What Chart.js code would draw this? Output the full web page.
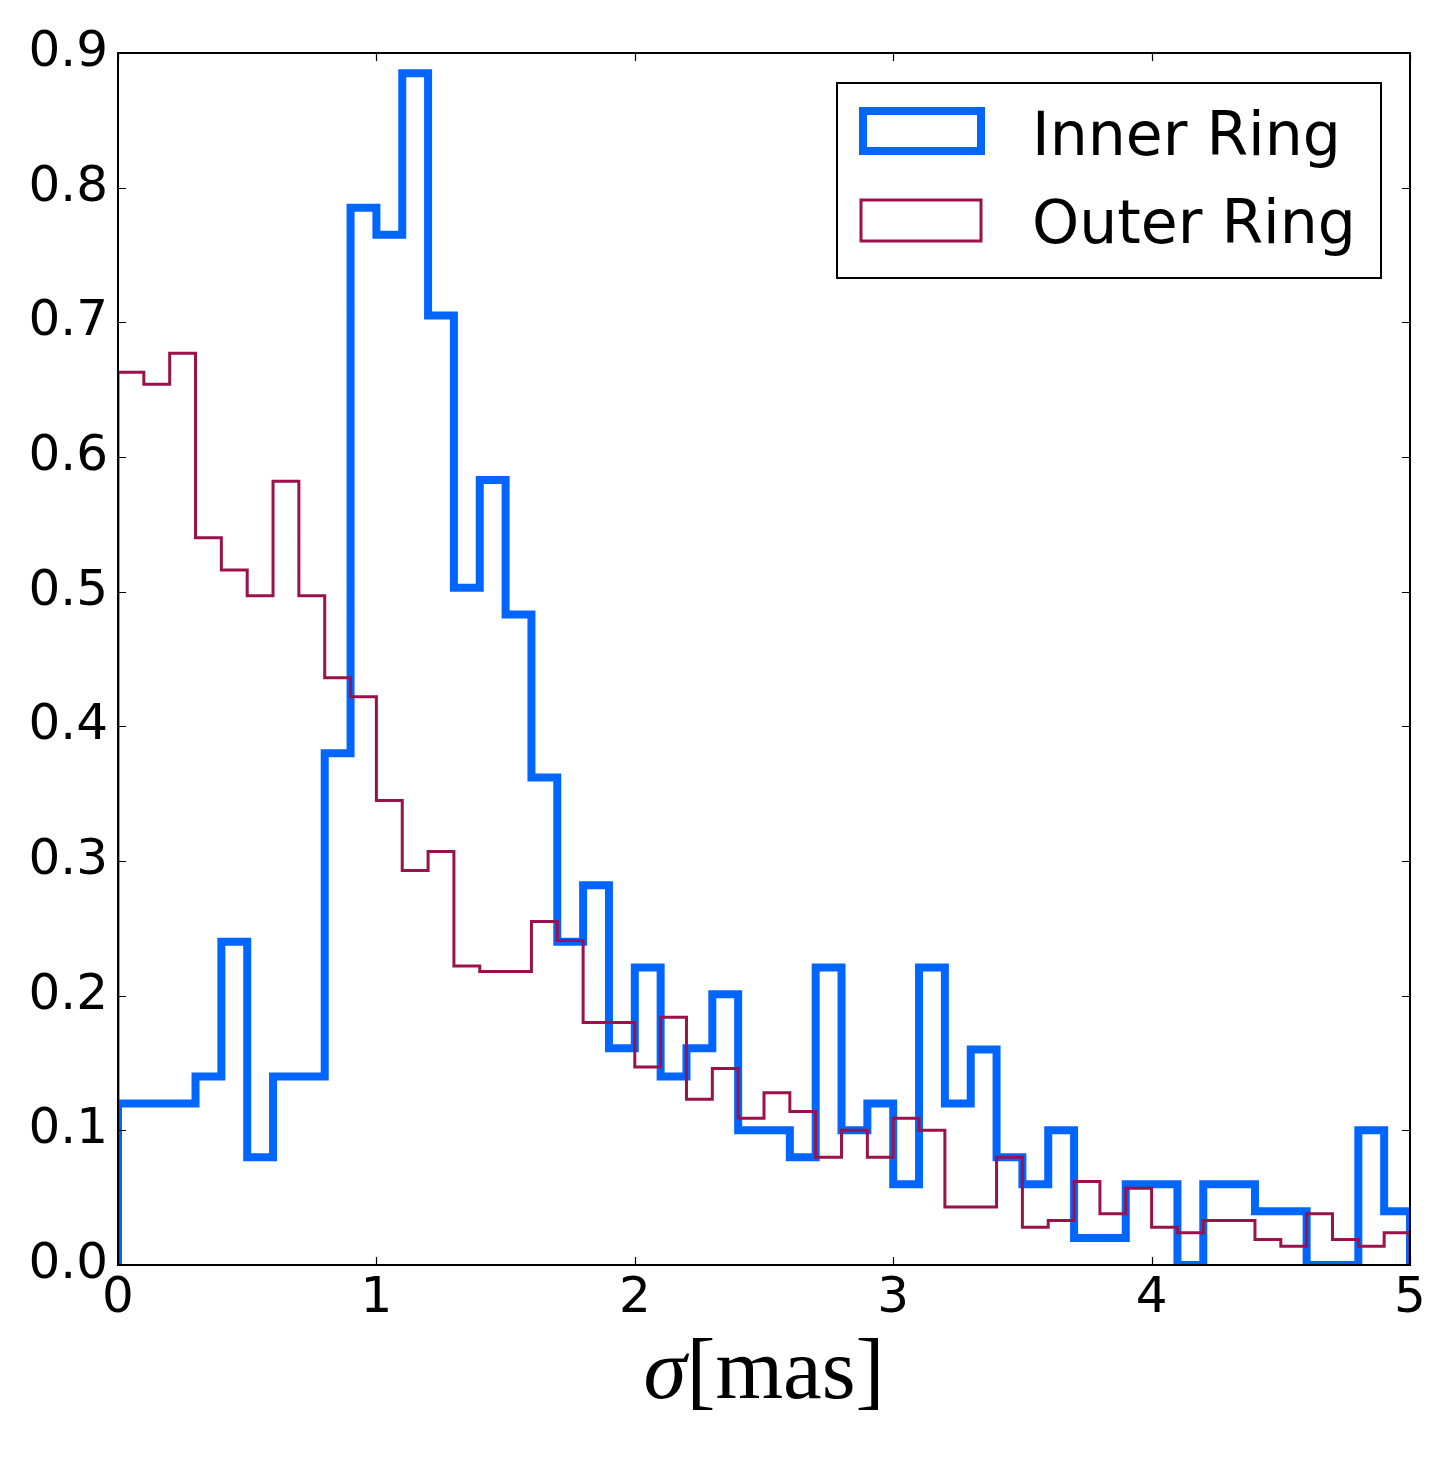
<!DOCTYPE html>
<html>
<head>
<meta charset="utf-8">
<script src="https://cdn.jsdelivr.net/npm/chart.js@4/dist/chart.umd.min.js"></script>
<style>
  html, body { margin: 0; padding: 0; background: #fff; }
  #wrap { width: 1455px; height: 1457px; position: relative; }
</style>
</head>
<body>
<div id="wrap"><canvas id="c"></canvas></div>
<script>
// ---- Data ----
const binEdges = [0.0,0.1,0.2,0.3,0.4,0.5,0.6,0.7,0.8,0.9,1.0,1.1,1.2,1.3,1.4,1.5,1.6,1.7,1.8,1.9,
                  2.0,2.1,2.2,2.3,2.4,2.5,2.6,2.7,2.8,2.9,3.0,3.1,3.2,3.3,3.4,3.5,3.6,3.7,3.8,3.9,
                  4.0,4.1,4.2,4.3,4.4,4.5,4.6,4.7,4.8,4.9,5.0];
const innerRing = [0.12,0.12,0.12,0.14,0.24,0.08,0.14,0.14,0.38,0.785,
                   0.765,0.885,0.705,0.503,0.583,0.483,0.362,0.24,0.282,0.161,
                   0.221,0.14,0.161,0.201,0.10,0.10,0.08,0.221,0.10,0.12,
                   0.06,0.221,0.12,0.16,0.08,0.06,0.10,0.02,0.02,0.06,
                   0.06,0.0,0.06,0.06,0.04,0.04,0.0,0.0,0.10,0.04];
const outerRing = [0.663,0.654,0.677,0.540,0.516,0.497,0.582,0.497,0.436,0.422,
                   0.345,0.293,0.307,0.222,0.218,0.218,0.255,0.241,0.180,0.180,
                   0.147,0.184,0.123,0.146,0.109,0.128,0.114,0.080,0.100,0.080,
                   0.109,0.100,0.043,0.043,0.080,0.028,0.033,0.062,0.038,0.057,
                   0.028,0.024,0.033,0.033,0.019,0.014,0.038,0.019,0.014,0.024];
const seriesLabels = ['Inner Ring', 'Outer Ring'];
const xTicks = [0,1,2,3,4,5];
const yTicks = [0.0,0.1,0.2,0.3,0.4,0.5,0.6,0.7,0.8,0.9];

// Build step outline (histtype='step') from edges + values
function stepPoints(edges, vals) {
  const pts = [{x: edges[0], y: 0}];
  for (let i = 0; i < vals.length; i++) {
    pts.push({x: edges[i], y: vals[i]});
    pts.push({x: edges[i+1], y: vals[i]});
  }
  pts.push({x: edges[edges.length-1], y: 0});
  return pts;
}

const BLUE = '#0066ff';
const RED = '#9b114b';

const framePlugin = {
  id: 'frameTicks',
  afterDatasetsDraw(chart) {
    const {ctx, chartArea: a, scales} = chart;
    ctx.save();
    ctx.strokeStyle = '#000';
    ctx.lineWidth = 1.2;
    const tl = 8;
    ctx.beginPath();
    xTicks.forEach(v => {
      const px = Math.round(scales.x.getPixelForValue(v)) + 0.5;
      ctx.moveTo(px, a.bottom); ctx.lineTo(px, a.bottom - tl);
      ctx.moveTo(px, a.top); ctx.lineTo(px, a.top + tl);
    });
    yTicks.forEach(v => {
      const py = Math.round(scales.y.getPixelForValue(v)) + 0.5;
      ctx.moveTo(a.left, py); ctx.lineTo(a.left + tl, py);
      ctx.moveTo(a.right, py); ctx.lineTo(a.right - tl, py);
    });
    ctx.stroke();
    ctx.lineWidth = 2;
    ctx.strokeRect(a.left, a.top, a.right - a.left, a.bottom - a.top);
    ctx.restore();
  },
  afterDraw(chart) {
    const {ctx, chartArea: a} = chart;
    ctx.save();
    // x-axis title: σ[mas]
    const cx = (a.left + a.right) / 2;
    const base = a.bottom + 133;
    const fs = 87;
    ctx.fillStyle = '#000';
    ctx.textBaseline = 'alphabetic';
    ctx.textAlign = 'left';
    ctx.font = 'italic ' + fs + 'px "Liberation Serif"';
    const sig = 'σ';
    const wSig = ctx.measureText(sig).width;
    ctx.font = fs + 'px "Liberation Serif"';
    const rest = '[mas]';
    const wRest = ctx.measureText(rest).width;
    let x0 = cx - (wSig + wRest) / 2;
    ctx.font = 'italic ' + fs + 'px "Liberation Serif"';
    ctx.fillText(sig, x0, base);
    ctx.font = fs + 'px "Liberation Serif"';
    ctx.fillText(rest, x0 + wSig, base);

    // Legend (drawn inside the axes, upper right)
    const lx = 837, ly = 83, lw = 544, lh = 195;
    ctx.fillStyle = '#fff';
    ctx.fillRect(lx, ly, lw, lh);
    ctx.strokeStyle = '#000';
    ctx.lineWidth = 2;
    ctx.strokeRect(lx, ly, lw, lh);
    const ds = chart.data.datasets;
    const rows = [
      {box: [863, 111, 118, 40], textY: 155},
      {box: [861, 200, 120, 41], textY: 243}
    ];
    ds.forEach((d, i) => {
      const r = rows[i];
      ctx.strokeStyle = d.borderColor;
      ctx.lineWidth = d.borderWidth;
      ctx.lineJoin = 'miter';
      ctx.strokeRect(r.box[0], r.box[1], r.box[2], r.box[3]);
      ctx.fillStyle = '#000';
      ctx.font = '60px "DejaVu Sans"';
      ctx.textBaseline = 'alphabetic';
      ctx.fillText(d.label, 1032, r.textY);
    });
    ctx.restore();
  }
};

new Chart(document.getElementById('c'), {
  type: 'line',
  data: {
    datasets: [
      {
        label: seriesLabels[0],
        data: stepPoints(binEdges, innerRing),
        borderColor: BLUE,
        borderWidth: 8,
        borderJoinStyle: 'miter',
        borderCapStyle: 'butt',
        pointRadius: 0,
        tension: 0,
        fill: false,
        clip: 0,
        order: 1
      },
      {
        label: seriesLabels[1],
        data: stepPoints(binEdges, outerRing),
        borderColor: RED,
        borderWidth: 3,
        borderJoinStyle: 'miter',
        borderCapStyle: 'butt',
        pointRadius: 0,
        tension: 0,
        fill: false,
        clip: 0,
        order: 0
      }
    ]
  },
  options: {
    responsive: true,
    maintainAspectRatio: false,
    animation: false,
    devicePixelRatio: 1,
    layout: { padding: { top: 53, right: 45, left: 0, bottom: 0 } },
    plugins: { legend: { display: false }, tooltip: { enabled: false } },
    scales: {
      x: {
        type: 'linear',
        min: 0, max: 5,
        afterFit(s) { s.height = 192; },
        afterBuildTicks(s) { s.ticks = xTicks.map(v => ({value: v})); },
        grid: { display: false, drawTicks: false },
        border: { display: false },
        ticks: {
          color: '#000',
          padding: 4,
          maxRotation: 0,
          font: { family: 'DejaVu Sans', size: 50 },
          callback: v => String(v)
        }
      },
      y: {
        type: 'linear',
        min: 0, max: 0.9,
        afterFit(s) { s.width = 118; },
        afterBuildTicks(s) { s.ticks = yTicks.map(v => ({value: v})); },
        grid: { display: false, drawTicks: false },
        border: { display: false },
        ticks: {
          color: '#000',
          padding: 10,
          font: { family: 'DejaVu Sans', size: 50 },
          callback: v => Number(v).toFixed(1)
        }
      }
    }
  },
  plugins: [framePlugin]
});
</script>
</body>
</html>
